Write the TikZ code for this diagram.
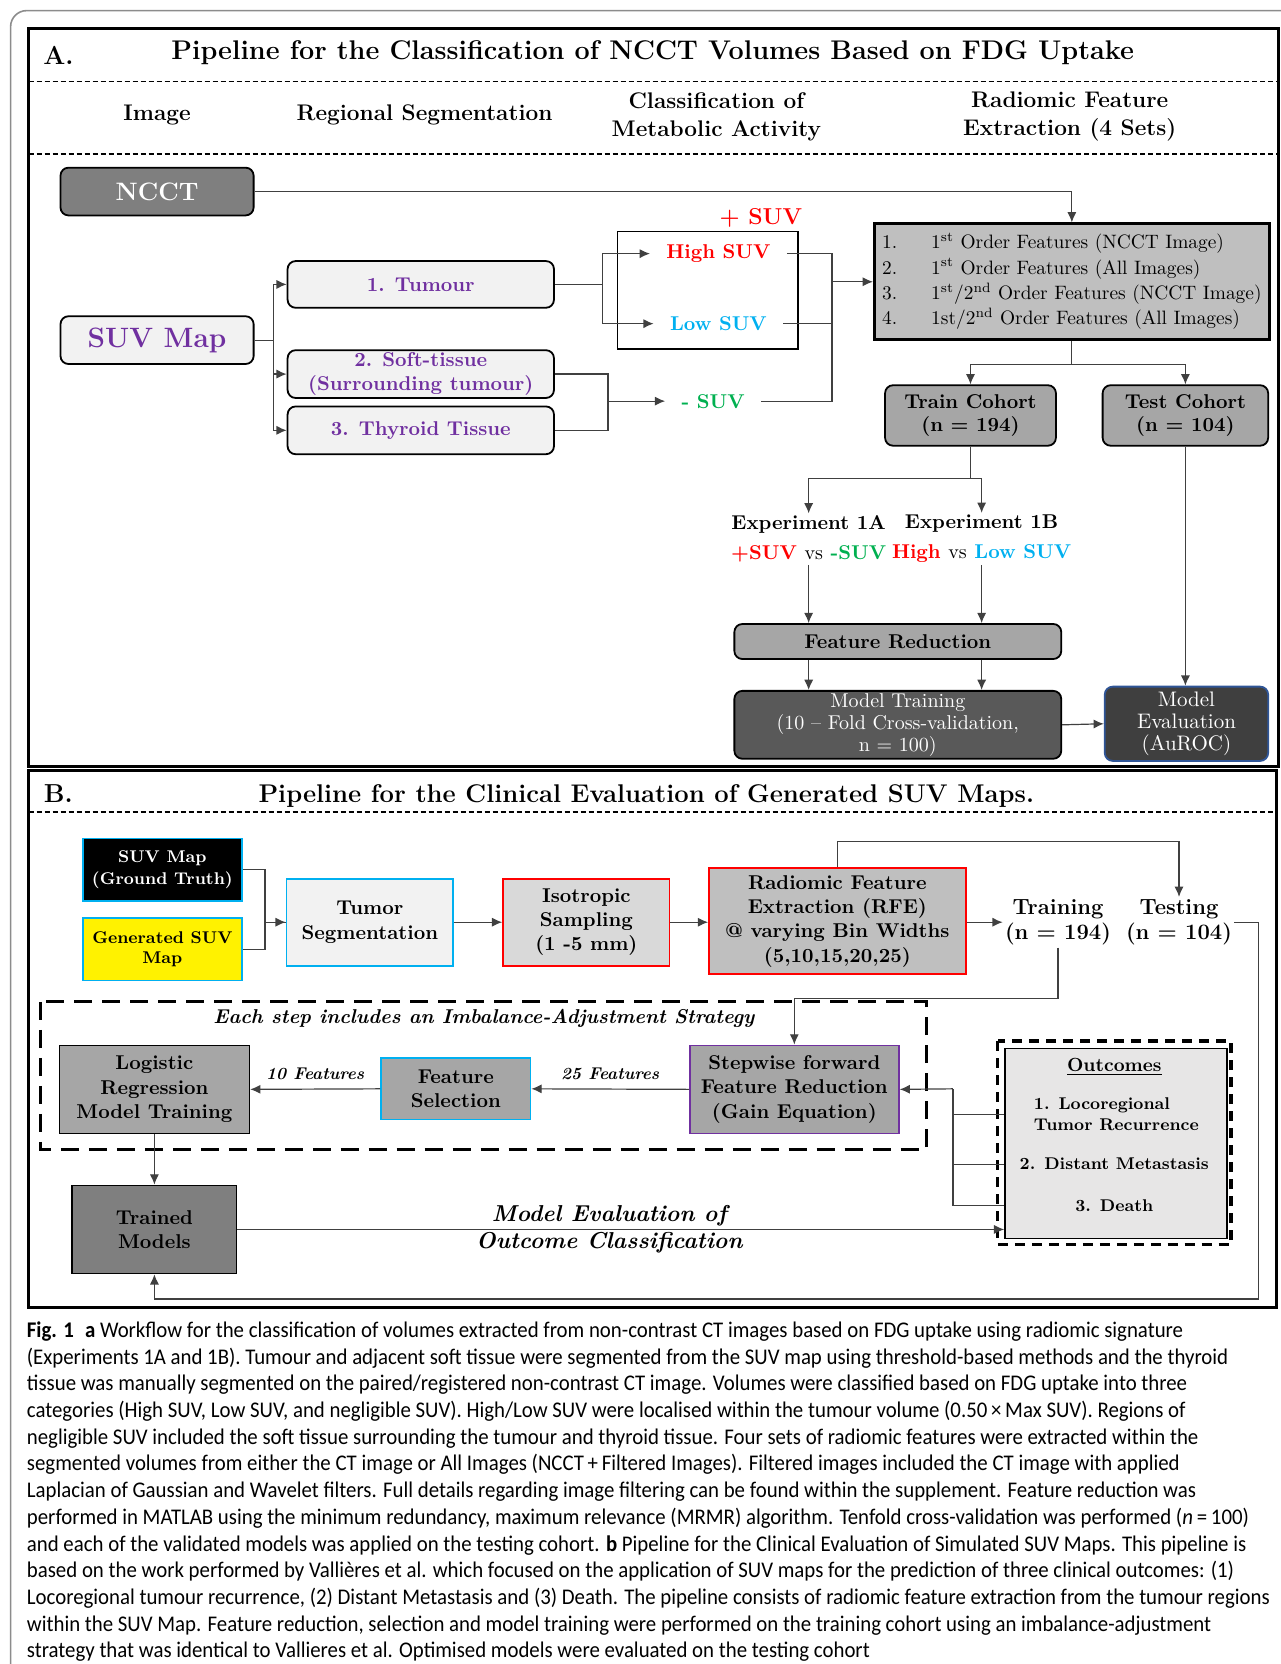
\documentclass[tikz,border=0pt]{standalone}
\usepackage{fontspec}
\newfontfamily\capfont[FakeStretch=0.93]{Carlito}
\usepackage{tikz}
\usetikzlibrary{arrows.meta,positioning}
\definecolor{purp}{HTML}{7030A0}
\definecolor{hired}{HTML}{FF0000}
\definecolor{lowblue}{HTML}{00B0F0}
\definecolor{neggreen}{HTML}{00B050}
\definecolor{lightfill}{HTML}{F2F2F2}
\definecolor{midgray}{HTML}{A6A6A6}
\definecolor{rankgray}{HTML}{BFBFBF}
\definecolor{isogray}{HTML}{D9D9D9}
\definecolor{darkfill}{HTML}{595959}
\definecolor{darkerfill}{HTML}{3F3F3F}
\definecolor{nccgray}{HTML}{7F7F7F}
\definecolor{evalblue}{HTML}{2F5597}
\definecolor{linegray}{HTML}{404040}
\definecolor{framegray}{HTML}{8C8C8C}
\definecolor{outfill}{HTML}{E7E6E6}
\tikzset{
  boxsize/.style 2 args={minimum width=#1*0.5307pt,minimum height=#2*0.5307pt},
  rbox/.style={rectangle,rounded corners=4pt,draw=black,line width=0.9pt,inner sep=1pt,
    align=center,font=\fontsize{10}{11.7}\selectfont\bfseries},
  sbox/.style={rectangle,draw=black,line width=0.8pt,inner sep=1pt,
    align=center,font=\fontsize{10}{12.2}\selectfont\bfseries},
  txt/.style={inner sep=1pt,align=center,font=\fontsize{10}{15}\selectfont\bfseries},
  hdr/.style={inner sep=1pt,align=center,font=\fontsize{11.3}{13.8}\selectfont\bfseries},
  ttl/.style={inner sep=1pt,font=\fontsize{13}{15}\selectfont\bfseries},
  arr/.style={-{Latex[length=1.8mm,width=1.6mm]},draw=linegray,line width=0.6pt},
  conn/.style={draw=linegray,line width=0.6pt},
  panel/.style={draw=black,line width=1.6pt},
  sep/.style={draw=black,line width=0.7pt,dash pattern=on 2.5pt off 1.5pt}
}
\begin{document}
\begin{tikzpicture}[x=0.5307pt,y=-0.5307pt]
\useasboundingbox (0,0) rectangle (1207,1568);
\draw[framegray,line width=0.8pt,rounded corners=8pt] (10,1568) -- (10,10) -- (1207,10);

% ---------- A ----------
\draw[panel] (27,27) rectangle (1205,722);
\draw[sep] (27,77) -- (1205,77);
\draw[sep] (27,145) -- (1205,145);
\node[ttl] (labA) at (55,52) {A.};
\node[ttl,font=\fontsize{13.5}{15}\selectfont\bfseries] (titA) at (615,50) {Pipeline for the Classification of NCCT Volumes Based on FDG Uptake};
\node[hdr] (hImg) at (148,108) {Image};
\node[hdr] (hSeg) at (400,108) {Regional Segmentation};
\node[hdr] (hCls) at (675,110) {Classification of\\Metabolic Activity};
\node[hdr] (hRad) at (1008,110) {Radiomic Feature\\Extraction (4 Sets)};

\node[rbox,fill=nccgray,text=white,boxsize={182}{45},font=\fontsize{12.6}{14}\selectfont\bfseries] (ncct) at (148,180.5) {NCCT};
\node[rbox,fill=lightfill,text=purp,boxsize={182}{45},font=\fontsize{14}{16}\selectfont\bfseries] (suv) at (148,320.5) {SUV Map};
\node[rbox,fill=lightfill,text=purp,boxsize={251}{44}] (tum) at (396.5,268) {1. Tumour};
\node[rbox,fill=lightfill,text=purp,boxsize={251}{45}] (soft) at (396.5,352.5) {2. Soft-tissue\\(Surrounding tumour)};
\node[rbox,fill=lightfill,text=purp,boxsize={251}{45}] (thy) at (396.5,405.5) {3. Thyroid Tissue};

\node[sbox,boxsize={170}{111}] (clsbox) at (667,273.5) {};
\node[txt,text=hired,font=\fontsize{11.5}{13}\selectfont\bfseries] (pos) at (717,205) {+ SUV};
\node[txt,text=hired,inner xsep=8pt] (high) at (677,239) {High SUV};
\node[txt,text=lowblue,inner xsep=8pt] (low) at (677,305) {Low SUV};
\node[txt,text=neggreen,inner xsep=8pt] (neg) at (672,378) {- SUV};

\node[sbox,fill=rankgray,line width=1.5pt,boxsize={372}{109},font=\fontsize{9.7}{12.7}\selectfont] (rank) at (1010,265.5)
  {\begin{tabular}{@{}l@{\hspace{17pt}}l@{}}
   1. & 1\textsuperscript{st} Order Features (NCCT Image)\\
   2. & 1\textsuperscript{st} Order Features (All Images)\\
   3. & 1\textsuperscript{st}/2\textsuperscript{nd} Order Features (NCCT Image)\\
   4. & 1st/2\textsuperscript{nd} Order Features (All Images)
   \end{tabular}};

\node[rbox,fill=midgray,boxsize={161}{57}] (train) at (914.5,391.5) {Train Cohort\\(n = 194)};
\node[rbox,fill=midgray,boxsize={156}{57}] (test) at (1117,391.5) {Test Cohort\\(n = 104)};
\node[txt] (exa) at (762,508) {Experiment 1A\\{\color{hired}+SUV} {\mdseries vs} {\color{neggreen}-SUV}};
\node[txt] (exb) at (925,508) {Experiment 1B\\{\color{hired}High} {\mdseries vs} {\color{lowblue}Low SUV}};
\node[rbox,fill=midgray,boxsize={308}{33}] (fr) at (846,604.5) {Feature Reduction};
\node[rbox,fill=darkfill,text=white,boxsize={308}{64},font=\fontsize{10}{10.9}\selectfont] (mt) at (846,683)
  {Model Training\\(10 -- Fold Cross-validation,\\n = 100)};
\node[rbox,fill=darkerfill,draw=evalblue,text=white,boxsize={154}{70},font=\fontsize{10.5}{11.1}\selectfont] (me) at (1118,682)
  {Model\\Evaluation\\(AuROC)};

\draw[arr] (ncct.east) -| (rank.north);
\foreach \b in {tum,soft,thy} \draw[arr] (suv.east) -- ++(18,0) |- (\b.west);
\draw[arr] (tum.east) -- ++(45,0) |- (high.west);
\draw[arr] (tum.east) -- ++(45,0) |- (low.west);
\coordinate (jneg) at (573,378);
\draw[conn] (soft.east) -| (jneg);
\draw[conn] (thy.east) -| (jneg);
\draw[arr] (jneg) -- (neg.west);
\coordinate (jrank) at (784,265.5);
\foreach \c in {high,low,neg} \draw[conn] (\c.east) -| (jrank);
\draw[arr] (jrank) -- (rank.west);
\draw[arr] (rank.south) -- ++(0,22) -| (train.north);
\draw[arr] (rank.south) -- ++(0,22) -| (test.north);
\draw[arr] (train.south) -- ++(0,30) -| (exa.north);
\draw[arr] (train.south) -- ++(0,30) -| (exb.north);
\draw[arr] (exa.south) -- (exa.south |- fr.north);
\draw[arr] (exb.south) -- (exb.south |- fr.north);
\draw[arr] (fr.south -| exa) -- (mt.north -| exa);
\draw[arr] (fr.south -| exb) -- (mt.north -| exb);
\draw[arr] (mt.east) -- (me.west);
\draw[arr] (test.south) -- (test.south |- me.north);

% ---------- B ----------
\draw[panel] (27,726) rectangle (1203,1232);
\draw[sep] (27,765) -- (1203,765);
\node[ttl] (labB) at (55,748) {B.};
\node[ttl,font=\fontsize{12.8}{15}\selectfont\bfseries] (titB) at (609,750) {Pipeline for the Clinical Evaluation of Generated SUV Maps.};

\node[sbox,fill=black,draw=lowblue,text=white,boxsize={150}{59},font=\fontsize{8.5}{10.6}\selectfont\bfseries] (gt) at (153,819.5) {SUV Map\\(Ground Truth)};
\node[sbox,fill=yellow,draw=lowblue,boxsize={150}{59},font=\fontsize{8.5}{10.2}\selectfont\bfseries] (gen) at (153,894.5) {Generated SUV\\Map};
\node[sbox,fill=lightfill,draw=lowblue,boxsize={157}{82}] (seg) at (348.5,869) {Tumor\\Segmentation};
\node[sbox,fill=isogray,draw=hired,boxsize={157}{82}] (iso) at (552.5,869) {Isotropic\\Sampling\\(1 -5 mm)};
\node[sbox,fill=rankgray,draw=hired,boxsize={242}{100}] (rfe) at (789,868) {Radiomic Feature\\Extraction (RFE)\\@ varying Bin Widths\\(5,10,15,20,25)};
\node[txt,font=\fontsize{11}{12.7}\selectfont\bfseries] (trn) at (997,869) {Training\\(n = 194)};
\node[txt,font=\fontsize{11}{12.7}\selectfont\bfseries] (tst) at (1111,869) {Testing\\(n = 104)};

\draw[line width=1.6pt,dash pattern=on 9pt off 5pt] (38,944) rectangle (873,1083);
\node[txt,font=\fontsize{10}{12}\selectfont\bfseries\itshape] (imb) at (456,960) {Each step includes an Imbalance-Adjustment Strategy};
\node[sbox,fill=midgray,boxsize={179}{83}] (lr) at (145.5,1026.5) {Logistic\\Regression\\Model Training};
\node[sbox,fill=midgray,draw=lowblue,boxsize={141}{58}] (fs) at (429.5,1026) {Feature\\Selection};
\node[sbox,fill=midgray,draw=purp,boxsize={197}{83}] (sw) at (748.5,1026.5) {Stepwise forward\\Feature Reduction\\(Gain Equation)};
\node[sbox,fill=nccgray,boxsize={155}{83}] (trained) at (145.5,1158.5) {Trained\\Models};

\draw[line width=1.6pt,dash pattern=on 5pt off 3.5pt] (940,981) rectangle (1160,1173);
\node[sbox,fill=outfill,boxsize={209}{179}] (outc) at (1051.5,1077.5) {};
\node[txt,font=\fontsize{9.5}{11}\selectfont\bfseries] (outt) at (1050,1005) {\underline{Outcomes}};
\node[txt,align=left,font=\fontsize{8.5}{10.2}\selectfont\bfseries] (o1) at (1052,1050) {1. Locoregional\\Tumor Recurrence};
\node[txt,font=\fontsize{8.5}{10.2}\selectfont\bfseries] (o2) at (1050,1097) {2. Distant Metastasis};
\node[txt,font=\fontsize{8.5}{10.2}\selectfont\bfseries] (o3) at (1050,1136) {3. Death};

\draw[arr] (gt.east) -| ++(21,0) |- (seg.west);
\draw[conn] (gen.east) -| ++(21,0) |- (seg.west);
\draw[arr] (seg.east) -- (iso.west);
\draw[arr] (iso.east) -- (iso.east -| rfe.west);
\draw[arr] (rfe.east |- trn) -- (trn.west);
\draw[arr] (rfe.north) -- ++(0,-24) -| (tst.north);
\coordinate (jtr) at (997,941);
\draw[arr] (trn.south) -- (jtr) -| (sw.north);
\coordinate (jrt) at (1186,1224);
\draw[arr] (tst.east) -| (jrt) -| (trained.south);
\draw[arr] (sw.west) -- (fs.east) node[midway,above=1pt,font=\fontsize{8.5}{10}\selectfont\bfseries\itshape] (f25) {25 Features};
\draw[arr] (fs.west) -- (lr.east) node[midway,above=1pt,font=\fontsize{8.5}{10}\selectfont\bfseries\itshape] (f10) {10 Features};
\draw[arr] (lr.south) -- (trained.north);
\draw[arr] (trained.east) -- (trained.east -| outc.west)
  node[pos=0.485,align=center,font=\fontsize{11.5}{13.8}\selectfont\bfseries\itshape] (evl) {Model Evaluation of\\Outcome Classification};
\coordinate (jO) at (898,1026);
\foreach \o in {o1,o2,o3} \draw[conn] (outc.west |- \o) -| (jO);
\draw[arr] (jO) -- (sw.east);

% ---------- caption ----------
\node[anchor=north west,inner sep=0pt,align=left,font=\capfont\fontsize{11.2}{13.36}\selectfont] (cap) at (25,1245) {%
\textbf{Fig. 1}\enspace\textbf{a} Workflow for the classification of volumes extracted from non-contrast CT images based on FDG uptake using radiomic signature\\
(Experiments 1A and 1B). Tumour and adjacent soft tissue were segmented from the SUV map using threshold-based methods and the thyroid\\
tissue was manually segmented on the paired/registered non-contrast CT image. Volumes were classified based on FDG uptake into three\\
categories (High SUV, Low SUV, and negligible SUV). High/Low SUV were localised within the tumour volume (0.50\,×\,Max SUV). Regions of\\
negligible SUV included the soft tissue surrounding the tumour and thyroid tissue. Four sets of radiomic features were extracted within the\\
segmented volumes from either the CT image or All Images (NCCT\,+\,Filtered Images). Filtered images included the CT image with applied\\
Laplacian of Gaussian and Wavelet filters. Full details regarding image filtering can be found within the supplement. Feature reduction was\\
performed in MATLAB using the minimum redundancy, maximum relevance (MRMR) algorithm. Tenfold cross-validation was performed (\textit{n}\,=\,100)\\
and each of the validated models was applied on the testing cohort. \textbf{b} Pipeline for the Clinical Evaluation of Simulated SUV Maps. This pipeline is\\
based on the work performed by Vallières et al. which focused on the application of SUV maps for the prediction of three clinical outcomes: (1)\\
Locoregional tumour recurrence, (2) Distant Metastasis and (3) Death. The pipeline consists of radiomic feature extraction from the tumour regions\\
within the SUV Map. Feature reduction, selection and model training were performed on the training cohort using an imbalance-adjustment\\
strategy that was identical to Vallieres et al. Optimised models were evaluated on the testing cohort};
\end{tikzpicture}
\end{document}
